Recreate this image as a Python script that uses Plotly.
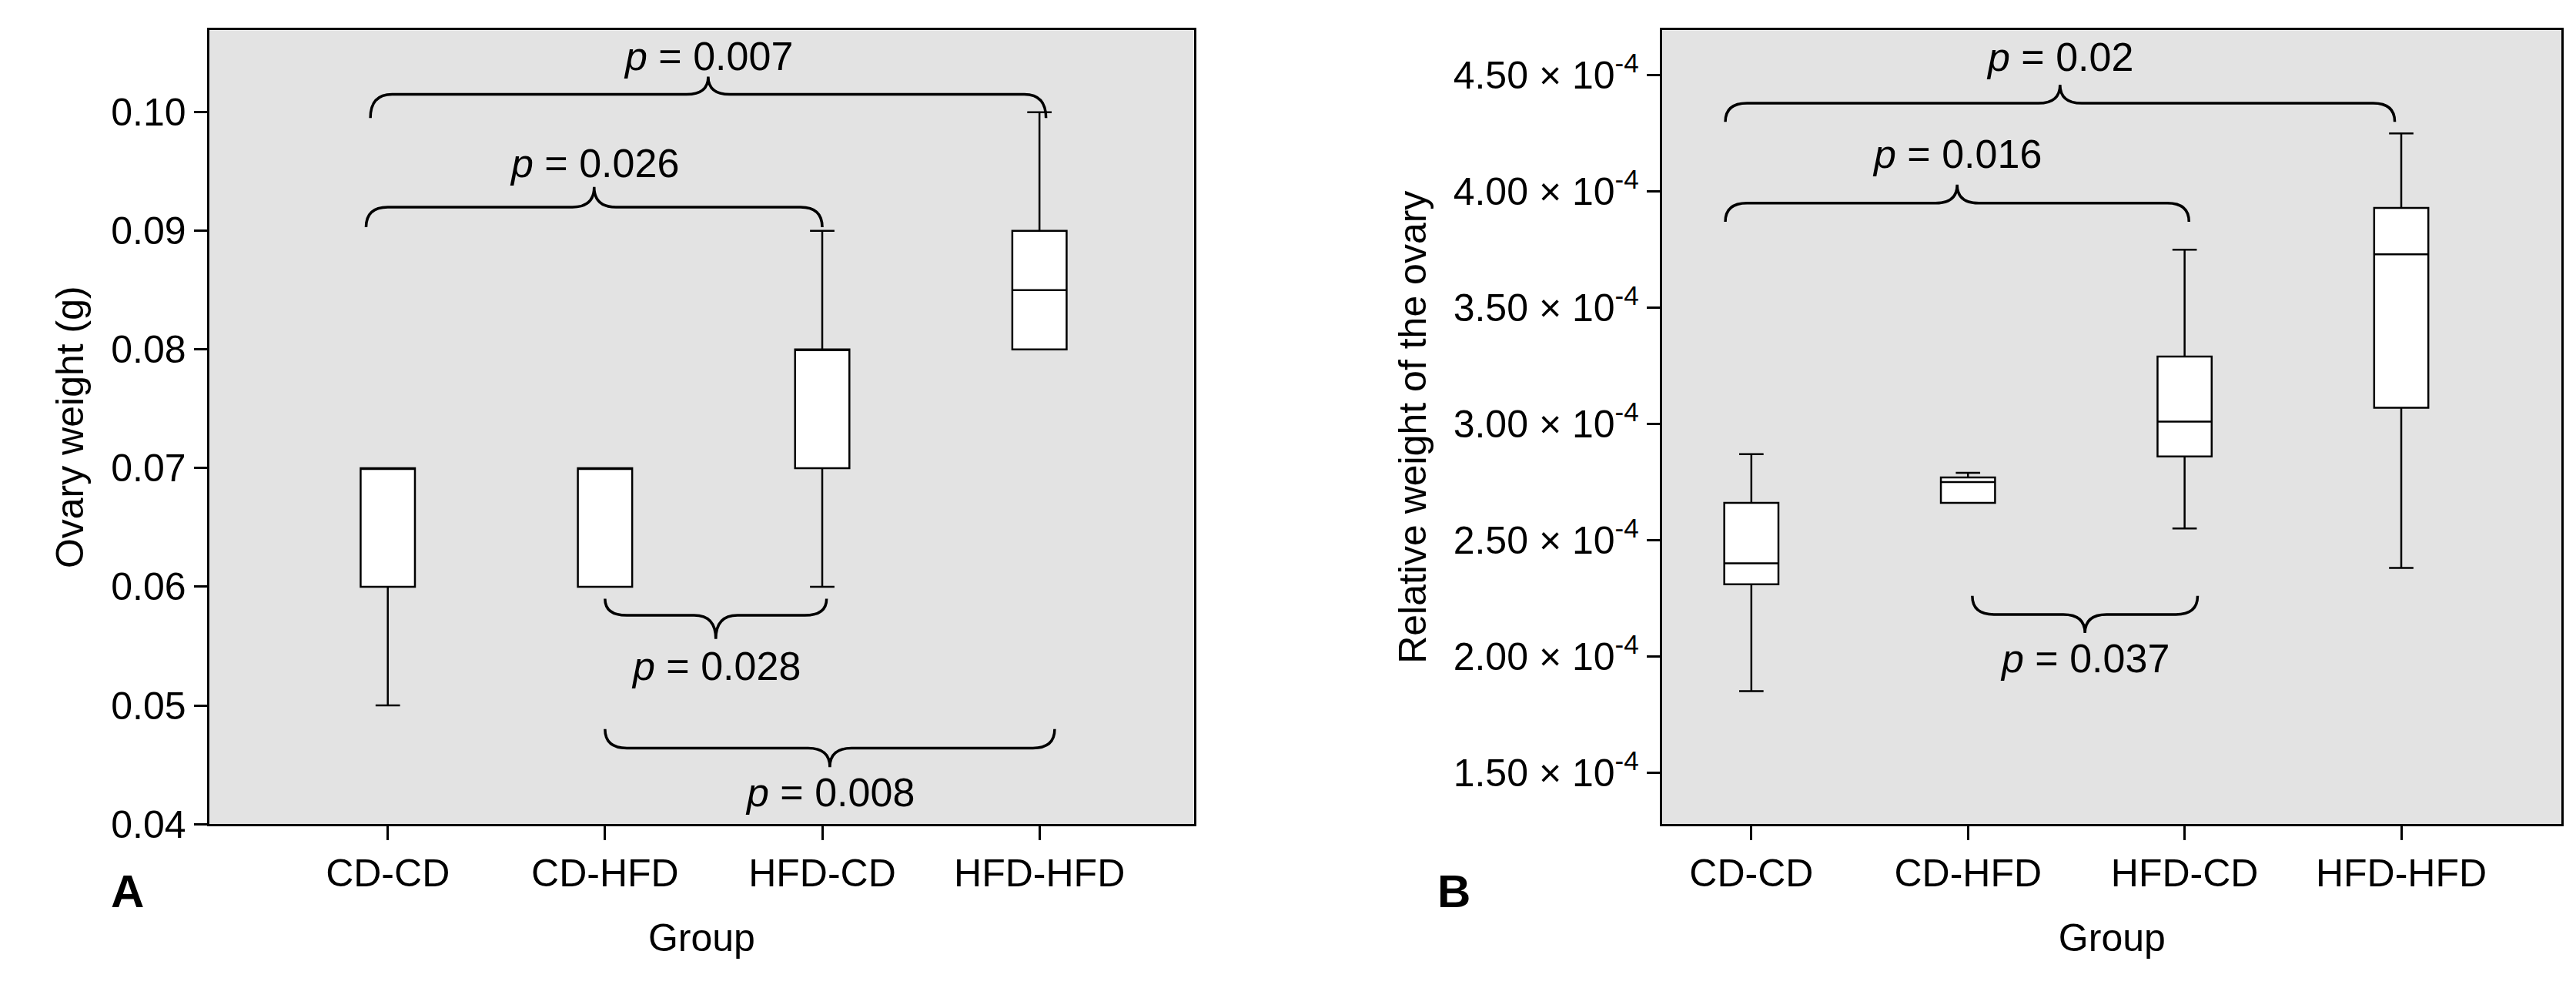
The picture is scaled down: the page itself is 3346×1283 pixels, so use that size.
import plotly.graph_objects as go

groups = ["CD-CD", "CD-HFD", "HFD-CD", "HFD-HFD"]
# Panel A: ovary weight (g)
a_min = [0.050, 0.060, 0.060, 0.080]
a_q1 = [0.060, 0.060, 0.070, 0.080]
a_med = [0.070, 0.070, 0.080, 0.085]
a_q3 = [0.070, 0.070, 0.080, 0.090]
a_max = [0.070, 0.070, 0.090, 0.100]
# Panel B: relative weight (x1e-4)
b_min = [1.85, 2.66, 2.55, 2.38]
b_q1 = [2.31, 2.66, 2.86, 3.07]
b_med = [2.40, 2.75, 3.01, 3.73]
b_q3 = [2.66, 2.77, 3.29, 3.93]
b_max = [2.87, 2.79, 3.75, 4.25]
b_ticks = [1.5, 2.0, 2.5, 3.0, 3.5, 4.0, 4.5]

# brackets: (x0, x1, line level, end level, tip level, text level, label)
a_br = [(-0.08, 3.03, 0.1015, 0.0995, 0.1030, 0.1047, "0.007"),
        (-0.10, 2.00, 0.0920, 0.0903, 0.0937, 0.0957, "0.026"),
        (1.00, 2.02, 0.0576, 0.0590, 0.0556, 0.0533, "0.028"),
        (1.00, 3.07, 0.0464, 0.0480, 0.0448, 0.0427, "0.008")]
b_br = [(-0.12, 2.97, 4.38, 4.30, 4.46, 4.58, "0.02"),
        (-0.12, 2.02, 3.95, 3.87, 4.03, 4.16, "0.016"),
        (1.02, 2.06, 2.18, 2.26, 2.10, 1.99, "0.037")]

FONT = "Liberation Sans, Arial, sans-serif"
fig = go.Figure()
xs = list(range(len(groups)))
for xa, ya, mn, q1, md, q3, mx, scale in [
        ("x", "y", a_min, a_q1, a_med, a_q3, a_max, 1),
        ("x2", "y2", b_min, b_q1, b_med, b_q3, b_max, 1e-4)]:
    fig.add_trace(go.Box(
        x=xs, lowerfence=[v * scale for v in mn], q1=[v * scale for v in q1],
        median=[v * scale for v in md], q3=[v * scale for v in q3],
        upperfence=[v * scale for v in mx], xaxis=xa, yaxis=ya,
        fillcolor="white", line=dict(color="black", width=2.5),
        width=0.25, whiskerwidth=0.45, showlegend=False, hoverinfo="skip"))

def brace(x0, x1, yl, ye, yt, xref, yref):
    d = 0.1
    xm = (x0 + x1) / 2
    p = (f"M {x0},{ye} Q {x0},{yl} {x0+d},{yl} L {xm-d},{yl} "
         f"Q {xm},{yl} {xm},{yt} Q {xm},{yl} {xm+d},{yl} "
         f"L {x1-d},{yl} Q {x1},{yl} {x1},{ye}")
    fig.add_shape(type="path", path=p, xref=xref, yref=yref,
                  line=dict(color="black", width=3.5))

PF = dict(size=52, family=FONT, color="black")
for x0, x1, yl, ye, yt, ytx, lab in a_br:
    brace(x0, x1, yl, ye, yt, "x", "y")
    fig.add_annotation(x=(x0 + x1) / 2, y=ytx, xref="x", yref="y",
                       text=f"<i>p</i> = {lab}", showarrow=False, font=PF)
for x0, x1, yl, ye, yt, ytx, lab in b_br:
    brace(x0, x1, yl * 1e-4, ye * 1e-4, yt * 1e-4, "x2", "y2")
    fig.add_annotation(x=(x0 + x1) / 2, y=ytx * 1e-4, xref="x2", yref="y2",
                       text=f"<i>p</i> = {lab}", showarrow=False, font=PF)

TF = dict(size=50, family=FONT, color="black")
ax = dict(showline=True, linecolor="black", linewidth=2.5, mirror=True,
          ticks="outside", ticklen=18, tickwidth=2.5, tickcolor="black",
          showgrid=False, zeroline=False,
          tickfont=dict(size=50, family=FONT, color="black"))
fig.update_layout(
    width=3346, height=1283, margin=dict(l=0, r=0, t=0, b=0),
    paper_bgcolor="white", plot_bgcolor="#e3e3e3",
    xaxis=dict(ax, domain=[0.079, 0.461], range=[-0.82, 3.71],
               tickvals=xs, ticktext=groups,
               title=dict(text="Group", font=TF, standoff=40)),
    yaxis=dict(ax, domain=[0.153, 0.975], range=[0.04, 0.1069],
               tickvals=[0.04, 0.05, 0.06, 0.07, 0.08, 0.09, 0.10], tickformat=".2f",
               title=dict(text="Ovary weight (g)", font=TF, standoff=20)),
    xaxis2=dict(ax, domain=[0.643, 0.992], range=[-0.41, 3.74], anchor="y2",
                tickvals=xs, ticktext=groups,
                title=dict(text="Group", font=TF, standoff=40)),
    yaxis2=dict(ax, domain=[0.153, 0.975], range=[1.278e-4, 4.694e-4], anchor="x2",
                tickvals=[t * 1e-4 for t in b_ticks],
                ticktext=[f"{t:.2f} × 10<sup>-4</sup>" for t in b_ticks],
                title=dict(text="Relative weight of the ovary", font=TF, standoff=20)),
)
fig.add_annotation(x=0.04, y=0.055, xref="paper", yref="paper", text="<b>A</b>",
                   showarrow=False, font=dict(size=60, family=FONT, color="black"))
fig.add_annotation(x=0.562, y=0.055, xref="paper", yref="paper", text="<b>B</b>",
                   showarrow=False, font=dict(size=60, family=FONT, color="black"))
fig.write_html("out.html")
